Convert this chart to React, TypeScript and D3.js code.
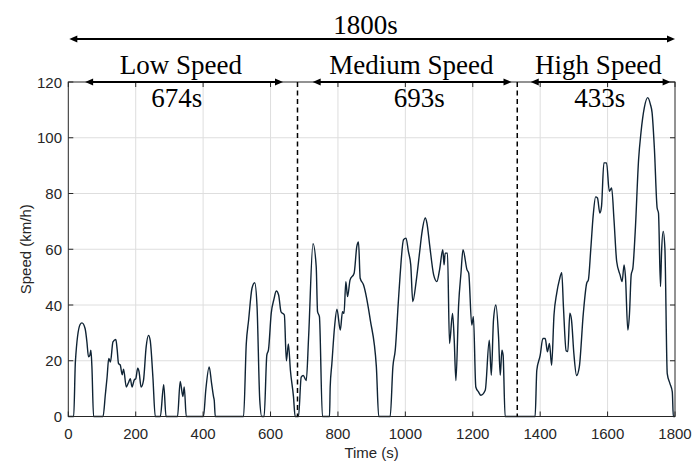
import React from "react";
import * as d3 from "d3";

const times = [0,16,21,35,40.5,50,55,60,64,67,70,75,103,110,115,120,125,132.5,141,145,149,154,160,164,172,178,184,189,196,200,206,210,216,223,231,238,243,251,258,273,283,290,324,332,340,344,350,401,408,418,425,431,433,436,520,528,535,545,553,560,568,574,581,589,594,602,610,617,624,631,641,647,653,659,668,673,683,691,697,706,713,726,735.5,739.5,745,754,775,777,782,790,797,807,813.5,818,823.5,828.5,836,848,856,861,866,876,896,914,921,955,963,970,979.5,984.5,994.5,1002,1009,1016,1022,1032,1042,1049,1059,1064,1072,1084,1093.5,1101.5,1111,1115,1118,1125,1131,1140,1145,1150,1158,1165,1171,1183,1188,1197,1202,1209,1217,1224,1237,1249,1255,1261.5,1268.5,1276.5,1281.5,1286.5,1290,1296,1385,1390,1400,1408,1415,1421.5,1427.5,1434,1441,1449,1457,1464,1469,1477,1482,1488,1493,1500,1508,1516,1528,1538,1543,1550,1557.5,1564.5,1570,1577,1582,1589,1597,1605,1612,1619,1627,1637,1643,1649,1653,1660,1665,1670,1675,1682,1692,1699,1709,1719,1727,1732,1739,1747,1751,1757,1760,1765,1770,1777,1785,1792,1795,1800];
const speeds = [0,0,19.6,33,33.6,31.5,27,21.4,22,23.8,18,0,0,8,14,20.8,19.5,26.8,27.6,24,19,18.5,15,17,10.6,12,13.6,10.6,13.2,13.5,17.3,16,10.6,12.9,25,29.1,27.3,14.1,0,0,11.4,0,0,12.6,7.2,10.6,0,0,9.6,17.8,12,7,5.8,0,0,26,34.6,46,48,39.4,6,0,0,22,24,37,42,45,43.6,37.6,36.4,20,26,16.5,7.2,0,0,14.1,14.7,12.9,28.6,62,53.8,37.6,35.8,0,0,10.6,19,32.2,38.5,31,37.6,37,48.4,43,49,51.4,61,62.6,49.6,47.2,34.6,17.8,0,0,17.8,23.8,41.8,50.8,63.4,64,59.2,54.4,41.2,48.4,58.6,65.8,71.2,69.4,61.6,50.8,48.4,52.6,59.8,54.4,58.6,58.6,26.2,37,27.4,12.9,40,51.4,59.8,52.6,51.4,32.8,35.8,10.6,8.8,7.6,9.4,27.4,14.8,34.6,40,28.6,14.8,23.8,22,0,0,16.6,21.9,28,28,23.2,26.2,18.4,36.4,44.2,49,51.6,39.4,23.6,23.3,37.1,34.6,22.5,14.7,17.7,37,47.8,49,59.8,72.4,78.8,78.4,73,75.4,91,91,80.8,82,70.6,55.6,50.8,48.4,54.4,50.2,31,37,50.8,53.2,66.4,92.2,101.8,110.8,114.4,112,109,95.8,74.8,73,46.6,58.6,66.4,60.4,15.4,11.8,8.8,0,0];

const xTicks = [0,200,400,600,800,1000,1200,1400,1600,1800];
const yTicks = [0,20,40,60,80,100,120];
const boundaries = [680, 1332];

const totalLabel = "1800s";
const phaseNames = ["Low Speed", "Medium Speed", "High Speed"];
const phaseDurations = ["674s", "693s", "433s"];
const phaseStarts = [50, 725, 1372];
const phaseEnds = [637, 1315, 1787];
const phaseNameCenters = [334, 1018, 1573];
const phaseDurCenters = [322, 1041, 1577];

const W = 694, H = 462;
const x = d3.scaleLinear().domain([0, 1800]).range([68.3, 675]);
const y = d3.scaleLinear().domain([0, 120]).range([416.5, 82]);

function Arrow({ x1, x2, yy }: { x1: number; x2: number; yy: number }) {
  const L = 8, hw = 3.5;
  return (
    <g>
      <line x1={x1 + L - 1} x2={x2 - L + 1} y1={yy} y2={yy} stroke="#000" strokeWidth={1.8} />
      <path d={`M${x1},${yy}L${x1 + L},${yy - hw}L${x1 + L},${yy + hw}Z`} fill="#000" />
      <path d={`M${x2},${yy}L${x2 - L},${yy - hw}L${x2 - L},${yy + hw}Z`} fill="#000" />
    </g>
  );
}

export default function App() {
  const data = times.map((t, i) => [t, speeds[i]] as [number, number]);
  const line = d3.line<[number, number]>().x(d => x(d[0])).y(d => y(d[1])).curve(d3.curveMonotoneX);
  const [x0, x1] = x.range();
  const [y0, y1] = y.range();
  const axisColor = "#262626";
  const tickFont = "'Liberation Sans', Arial, sans-serif";
  const serif = "'Liberation Serif', 'Times New Roman', serif";
  return (
    <svg width={W} height={H} style={{ position: "absolute", left: 0, top: 0, background: "#fff" }}>
      <rect width={W} height={H} fill="#fff" />
      {xTicks.slice(1, -1).map(t => (
        <line key={"gx" + t} x1={x(t)} x2={x(t)} y1={y1} y2={y0} stroke="#dedede" strokeWidth={1} />
      ))}
      {yTicks.slice(1, -1).map(v => (
        <line key={"gy" + v} x1={x0} x2={x1} y1={y(v)} y2={y(v)} stroke="#dedede" strokeWidth={1} />
      ))}
      <path d={line(data) || ""} fill="none" stroke="#0f2334" strokeWidth={1.4} strokeLinejoin="round" />
      <rect x={x0} y={y1} width={x1 - x0} height={y0 - y1} fill="none" stroke={axisColor} strokeWidth={1} />
      {xTicks.map(t => (
        <g key={"tx" + t}>
          <line x1={x(t)} x2={x(t)} y1={y0} y2={y0 - 5} stroke={axisColor} />
          <line x1={x(t)} x2={x(t)} y1={y1} y2={y1 + 5} stroke={axisColor} />
          <text x={x(t)} y={439} textAnchor="middle" fontFamily={tickFont} fontSize={15} fill={axisColor}>{t}</text>
        </g>
      ))}
      {yTicks.map(v => (
        <g key={"ty" + v}>
          <line x1={x0} x2={x0 + 5} y1={y(v)} y2={y(v)} stroke={axisColor} />
          <line x1={x1} x2={x1 - 5} y1={y(v)} y2={y(v)} stroke={axisColor} />
          <text x={62} y={y(v) + 5.5} textAnchor="end" fontFamily={tickFont} fontSize={15} fill={axisColor}>{v}</text>
        </g>
      ))}
      <text x={(x0 + x1) / 2} y={458} textAnchor="middle" fontFamily={tickFont} fontSize={15} fill={axisColor}>Time (s)</text>
      <text transform={`translate(31,${(y0 + y1) / 2}) rotate(-90)`} textAnchor="middle" fontFamily={tickFont} fontSize={15} fill={axisColor}>Speed (km/h)</text>
      {boundaries.map(b => (
        <line key={"b" + b} x1={x(b)} x2={x(b)} y1={y1} y2={y0} stroke="#000" strokeWidth={1.5} strokeDasharray="5,3.5" />
      ))}
      <Arrow x1={x(3)} x2={x(1800)} yy={39} />
      <text x={365.5} y={34} textAnchor="middle" fontFamily={serif} fontSize={27} fill="#000">{totalLabel}</text>
      {phaseNames.map((n, i) => (
        <g key={n}>
          <Arrow x1={x(phaseStarts[i])} x2={x(phaseEnds[i])} yy={82} />
          <text x={x(phaseNameCenters[i])} y={73.5} textAnchor="middle" fontFamily={serif} fontSize={27} fill="#000">{n}</text>
          <text x={x(phaseDurCenters[i])} y={107} textAnchor="middle" fontFamily={serif} fontSize={27} fill="#000">{phaseDurations[i]}</text>
        </g>
      ))}
    </svg>
  );
}
